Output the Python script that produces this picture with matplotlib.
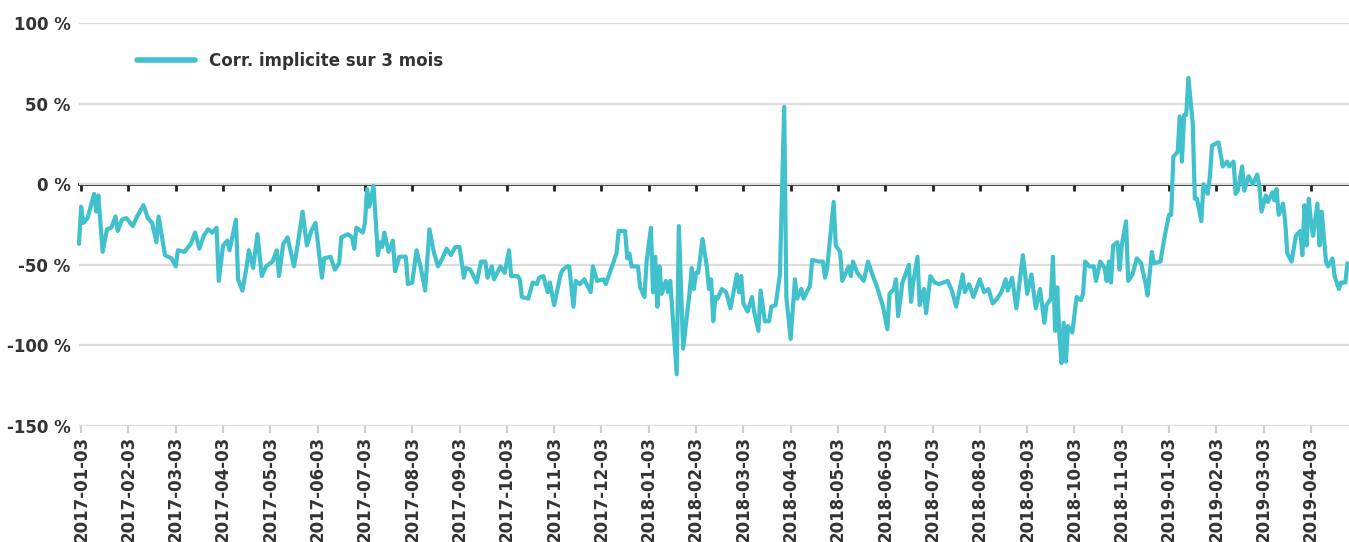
#! /usr/bin/env python3
# coding: utf-8

"""
Corrélation implicite sur 3 mois, 2017-01 -> 2019-04
"""

import matplotlib
matplotlib.use("Agg")
import matplotlib.pyplot as plt

# jour de bourse (index) et valeur, en %
jours = [0, 1, 2, 4, 7, 8, 9, 11, 13, 15, 17, 18, 20, 22, 25, 27, 30, 32, 34, 36,
         37, 40, 43, 45, 46, 49, 52, 54, 56, 58, 60, 62, 64, 65, 67, 69, 70, 73, 74, 76,
         78, 79, 81, 83, 85, 87, 90, 92, 93, 95, 97, 100, 102, 104, 106, 108, 110, 113, 114, 117,
         119, 121, 122, 125, 127, 128, 129, 132, 133, 134, 135, 137, 139, 140, 141, 142, 144, 146, 147, 149,
         152, 153, 155, 157, 159, 161, 163, 165, 167, 169, 171, 173, 175, 177, 179, 180, 182, 185, 187, 189,
         190, 192, 193, 196, 198, 200, 201, 204, 205, 206, 209, 211, 213, 214, 216, 218, 219, 221, 224, 225,
         227, 228, 230, 231, 233, 235,
         238, 239, 241, 244, 245, 250, 251, 254, 255, 256, 257, 260, 261, 263, 264, 266, 267, 268, 269, 270,
         271, 273, 274, 275, 278, 279, 281, 283, 284, 285, 286, 287, 288, 290, 292, 293, 294, 295, 296, 297,
         299, 301, 303, 306, 307, 308, 309, 311, 313, 314, 316, 317, 319, 321, 322, 324, 326, 328, 329, 331,
         333, 334, 336, 337, 340, 341, 344, 346, 347, 348, 351, 352, 354, 355,
         358, 359, 360, 362, 365, 367, 369, 371, 374, 376, 377, 379, 380, 381, 383, 386, 387, 388, 390, 391,
         393, 394, 396, 398, 400, 404, 406, 408, 411, 412, 414, 416, 419, 421, 423, 425, 427, 429, 431, 432,
         434, 436, 439, 440, 441, 443, 445, 447, 449, 450, 452, 453, 454, 455, 456, 457, 458, 459, 460, 462,
         464, 466, 467, 468, 470, 472, 473, 475,
         477, 478, 479, 480, 481, 483, 484, 485, 487, 488, 490, 492, 494, 496, 497, 499, 500, 503, 505, 507,
         508, 509, 511, 512, 513, 514, 515, 516, 518, 519, 520, 522, 523, 525, 526, 527, 530, 532, 534, 535,
         537, 538, 539, 541, 542, 544, 546, 548, 549, 550, 552, 553, 555, 556, 557, 558, 560, 561, 562, 564,
         566, 568, 569, 570, 571, 572, 573, 574, 576, 577, 578, 580, 581, 583, 584, 586, 587, 589, 590]

correlation = [-37, -14, -24, -21, -6, -17, -7, -42, -28, -27, -20, -29, -22, -21, -26, -20, -13, -21, -24, -36,
               -20, -44, -46, -51, -41, -42, -37, -30, -40, -32, -28, -30, -27, -60, -38, -35, -41, -22, -59, -66,
               -51, -41, -52, -31, -57, -51, -48, -41, -57, -37, -33, -51, -35, -17, -38, -29, -24, -58, -46, -45,
               -53, -49, -33, -31, -33, -40, -27, -30, -24, -3, -14, -1, -44, -36, -39, -30, -42, -35, -54, -45,
               -45, -62, -61, -41, -52, -66, -28, -42, -51, -46, -40, -44, -39, -39, -58, -52, -53, -61, -48, -48,
               -58, -51, -59, -51, -55, -41, -57, -57, -59, -70, -71, -61, -62, -58, -57, -67, -61, -75, -56, -53,
               -51, -51, -76, -60, -62, -59,
               -67, -51, -60, -59, -62, -43, -29, -29, -46, -43, -51, -51, -64, -70, -48, -27, -67, -45, -76, -51,
               -68, -60, -67, -60, -118, -26, -102, -79, -67, -52, -65, -55, -55, -34, -51, -65, -59, -85, -70, -71,
               -65, -67, -77, -56, -67, -57, -74, -79, -70, -79, -91, -66, -85, -85, -76, -75, -56, 48, -70, -96,
               -59, -71, -65, -71, -63, -47, -48, -48, -58, -52, -11, -38, -42, -60,
               -51, -57, -48, -55, -60, -48, -56, -63, -76, -90, -68, -65, -59, -82, -61, -50, -73, -61, -45, -75,
               -65, -80, -57, -61, -62, -60, -66, -76, -56, -67, -62, -70, -59, -67, -65, -74, -71, -67, -59, -66,
               -58, -77, -44, -55, -68, -56, -77, -65, -86, -75, -71, -45, -91, -64, -94, -111, -86, -110, -88, -92,
               -70, -72, -68, -48, -51, -51, -60, -48,
               -52, -60, -48, -61, -38, -36, -53, -38, -23, -60, -56, -46, -49, -61, -69, -42, -49, -48, -32, -19,
               -19, 17, 20, 42, 14, 43, 43, 66, 38, -9, -9, -23, 0, -6, 5, 24, 26, 11, 14, 11,
               14, -6, -4, 11, -4, 5, 0, 6, -1, -17, -7, -11, -5, -10, -3, -19, -12, -23, -43, -48,
               -32, -29, -44, -13, -38, -9, -23, -32, -12, -38, -17, -48, -51, -46, -57, -65, -61, -61, -49]

dates_ticks = ['2017-01-03', '2017-02-03', '2017-03-03', '2017-04-03', '2017-05-03', '2017-06-03',
               '2017-07-03', '2017-08-03', '2017-09-03', '2017-10-03', '2017-11-03', '2017-12-03',
               '2018-01-03', '2018-02-03', '2018-03-03', '2018-04-03', '2018-05-03', '2018-06-03',
               '2018-07-03', '2018-08-03', '2018-09-03', '2018-10-03', '2018-11-03',
               '2019-01-03', '2019-02-03', '2019-03-03', '2019-04-03']

niveaux = [100, 50, 0, -50, -100, -150]

COULEUR = '#40c1cb'
TEXTE = '#333333'

plt.rcParams['font.family'] = ['DejaVu Sans']
plt.rcParams['font.weight'] = 'bold'

fig = plt.figure(figsize=(13.49, 5.42), dpi=100)
ax = fig.add_axes([79 / 1349, 1 - 426 / 542, 1 - 79 / 1349, (426 - 23) / 542])

ax.plot(jours, correlation, color=COULEUR, lw=3, solid_joinstyle='round',
        solid_capstyle='round', label='Corr. implicite sur 3 mois', zorder=3,
        clip_on=False)

ax.set_xlim(0, 590.7)
ax.set_ylim(-150, 100)

# axe y
ax.set_yticks(niveaux)
ax.set_yticklabels([f"{v} %" for v in niveaux])
ax.yaxis.grid(True, color='#dcdcdc', lw=1.6)
ax.set_axisbelow(True)
for s in ax.spines.values():
    s.set_visible(False)
ax.tick_params(axis='y', length=0, pad=6, labelsize=12, labelcolor=TEXTE)

# axe x (un repère tous les 22 jours de bourse)
pos_ticks = [1 + 22 * k for k in range(len(dates_ticks))]
ax.set_xticks(pos_ticks)
ax.set_xticklabels(dates_ticks, rotation=90)
ax.tick_params(axis='x', length=5, width=1.5, color='#d0d0d0', pad=2,
               labelsize=12, labelcolor=TEXTE)

# ligne du zéro, avec ses repères
zero = ax.secondary_xaxis((0 + 150) / 250)
zero.set_xticks(pos_ticks)
zero.tick_params(direction='in', length=5, width=2, color='#222222',
                 labeltop=False, labelbottom=False)
zero.spines['top'].set_color('#222222')
zero.spines['top'].set_linewidth(2)

leg = ax.legend(loc='center left', bbox_to_anchor=(137 / 1349, 1 - 61 / 542),
                bbox_transform=fig.transFigure, frameon=False, handlelength=3.5,
                handletextpad=0.8, borderpad=0, borderaxespad=0,
                prop={'weight': 'bold', 'size': 12})
for t in leg.get_texts():
    t.set_color(TEXTE)
leg.get_lines()[0].set_linewidth(4)

plt.savefig("out.png", dpi=100)
